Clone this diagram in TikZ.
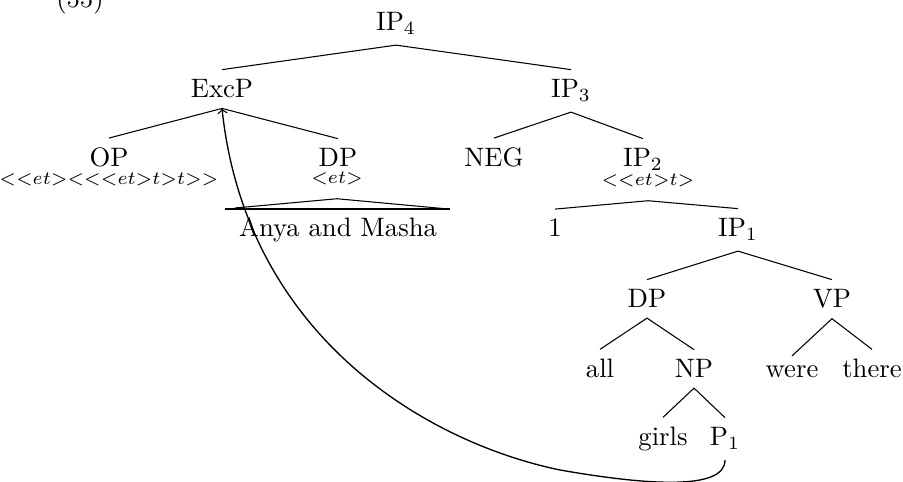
\documentclass[tikz,border=0pt]{standalone}
\begin{document}
% semantic type annotations under a category label
\newcommand\semtype[1]{{\scriptsize$#1$}}
\begin{tikzpicture}[
  x=0.375pt, y=-0.375pt,
  cat/.style={anchor=base, inner xsep=0pt, inner ysep=3.6pt},
  typ/.style={anchor=base, inner xsep=0pt, inner ysep=4.8pt},
  edge/.style={line width=0.4pt},
  move/.style={line width=0.5pt, ->},
]
\useasboundingbox (0,0) rectangle (903,482);

% example number
\node[cat] (num) at (80,8) {(55)};

% category labels
\node[cat] (IPfour)  at (396,31)  {IP$_4$};
\node[cat] (ExcP)    at (222,98)  {ExcP};
\node[cat] (IPthree) at (571,98)  {IP$_3$};
\node[cat] (OP)      at (109,167) {OP};
\node[typ] (OPt)     at (109,185) {\semtype{{<}{<}et{>}{<}{<}{<}et{>}t{>}t{>}{>}}};
\node[cat] (DPa)     at (338,167) {DP};
\node[typ] (DPat)    at (337,184) {\semtype{{<}et{>}}};
\node[cat] (NEG)     at (494,167) {NEG};
\node[cat] (IPtwo)   at (643,167) {IP$_2$};
\node[typ] (IPtwot)  at (648,186) {\semtype{{<}{<}et{>}t{>}}};
\node[cat] (Anya)    at (338,237) {Anya and Masha};
\node[cat] (one)     at (555,237) {1};
\node[cat] (IPone)   at (738,237) {IP$_1$};
\node[cat] (DPb)     at (647,308) {DP};
\node[cat] (VP)      at (832,308) {VP};
\node[cat] (all)     at (600,378) {all};
\node[cat] (NP)      at (694,378) {NP};
\node[cat] (were)    at (792,378) {were};
\node[cat] (there)   at (872,378) {there};
\node[cat] (girls)   at (663,446) {girls};
\node[cat] (Pone)    at (725,446) {P$_1$};

% branches
\draw[edge] (ExcP.north) -- (IPfour.south) -- (IPthree.north);
\draw[edge] (OP.north) -- (ExcP.south) -- (DPa.north);
\draw[edge] (NEG.north) -- (IPthree.south) -- (IPtwo.north);
\draw[edge] (one.north) -- (IPtwot.south) -- (IPone.north);
\draw[edge] (DPb.north) -- (IPone.south) -- (VP.north);
\draw[edge] (all.north) -- (DPb.south) -- (NP.north);
\draw[edge] (were.north) -- (VP.south) -- (there.north);
\draw[edge] (girls.north) -- (NP.south) -- (Pone.north);

% roof over the DP
\coordinate (roofL)  at (235,208);
\coordinate (roofR)  at (448,209);
\coordinate (baseL)  at (225,209);
\coordinate (baseR)  at (450,209);
\draw[edge] (roofL) -- (DPat.south) -- (roofR);
\draw[line width=0.8pt] (baseL) -- (baseR);

% movement arrow from the trace up to ExcP
\coordinate (bend) at (560,470);
\draw[move] (Pone.south) .. controls (725,492) and (640,484) .. (bend)
  .. controls (425,442) and (246,335) .. (ExcP.south);
\end{tikzpicture}
\end{document}
